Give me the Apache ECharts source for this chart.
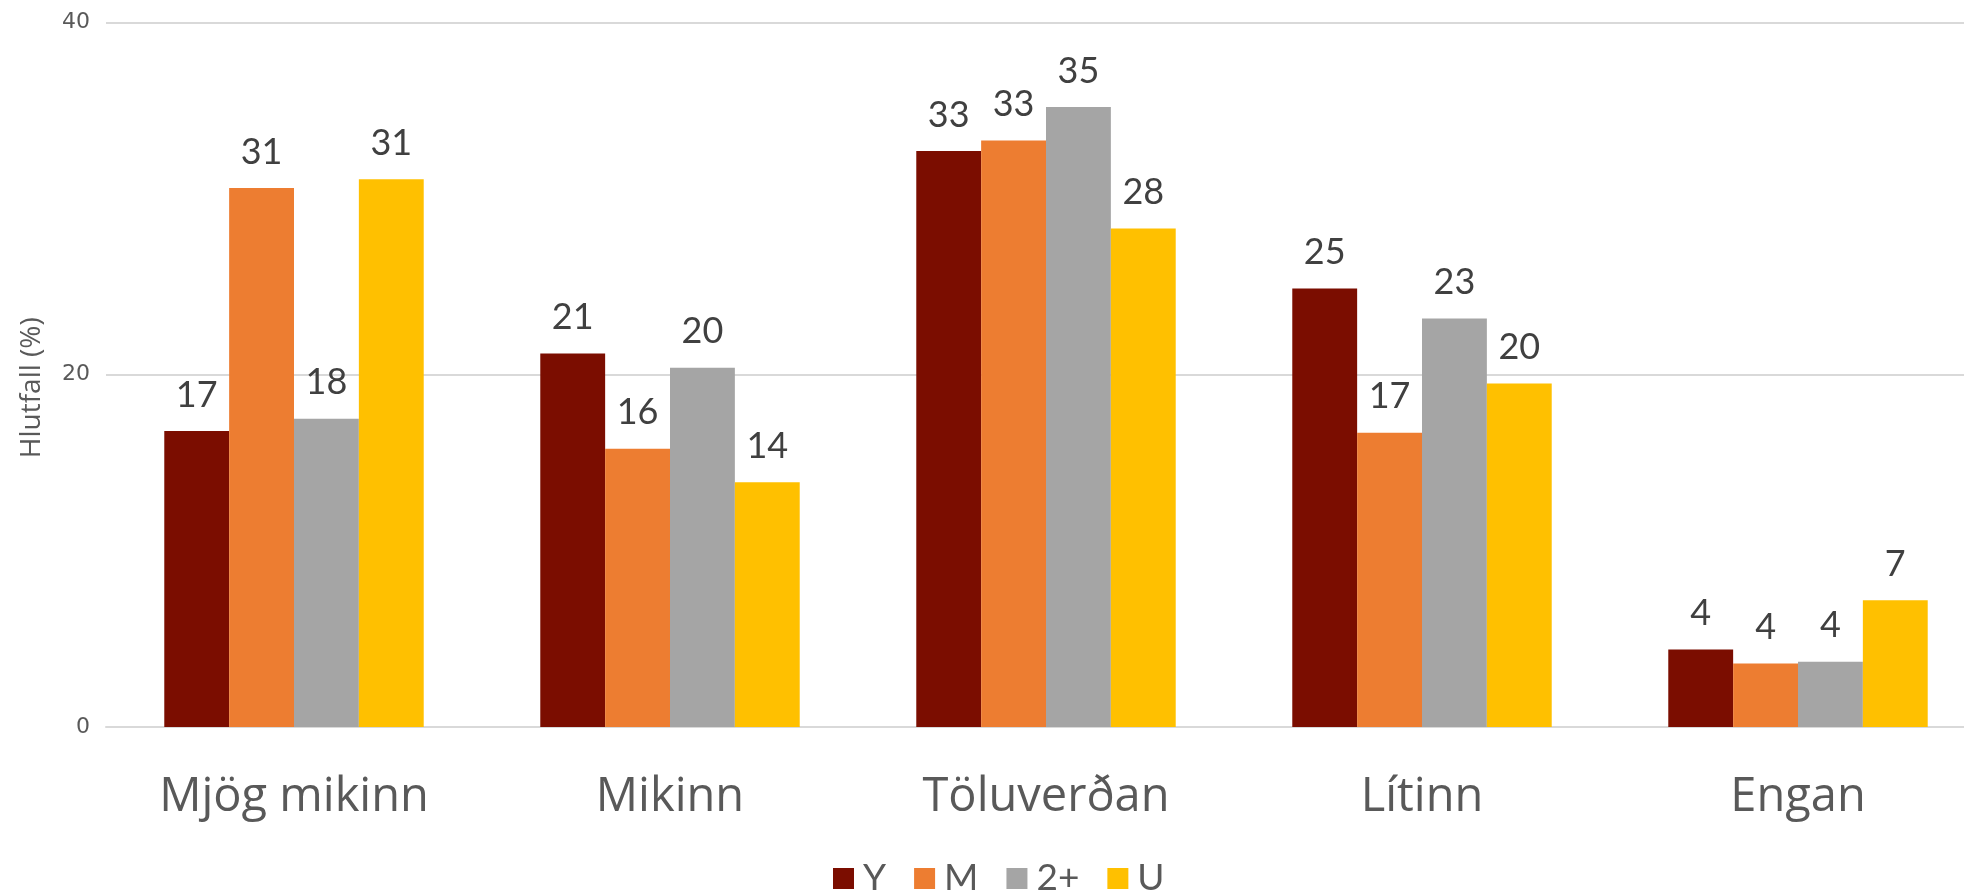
<!DOCTYPE html>
<html>
<head>
<meta charset="utf-8">
<script src="https://cdn.jsdelivr.net/npm/echarts@6/dist/echarts.min.js"></script>
<style>html,body{margin:0;padding:0;background:#fff;overflow:hidden}#c{width:1990px;height:891px}</style>
</head>
<body>
<div id="c"></div>
<script>
const categories = ["Mjög mikinn", "Mikinn", "Töluverðan", "Lítinn", "Engan"];
const seriesNames = ["Y", "M", "2+", "U"];
const valuesY = [16.8, 21.2, 32.7, 24.9, 4.4];
const valuesM = [30.6, 15.8, 33.3, 16.7, 3.6];
const values2 = [17.5, 20.4, 35.2, 23.2, 3.7];
const valuesU = [31.1, 13.9, 28.3, 19.5, 7.2];
const colors = ["#7B0D00", "#ED7D31", "#A5A5A5", "#FFC000"];
const yTicks = { min: 0, max: 40, interval: 20 };
const axisTitle = "Hlutfall (%)";

const allValues = [valuesY, valuesM, values2, valuesU];
const chart = echarts.init(document.getElementById('c'));
chart.setOption({
  animation: false,
  grid: { left: 106, width: 1880, top: 22.5, bottom: 164 },
  legend: {
    left: 828, top: 855,
    icon: 'rect', itemWidth: 21, itemHeight: 21, itemGap: 28,
    textStyle: { fontSize: 37, color: '#595959', fontFamily: 'Lato', padding: [0, 0, 0, 4] },
    data: seriesNames
  },
  xAxis: {
    type: 'category', data: categories,
    axisLine: { show: true, lineStyle: { color: '#D9D9D9', width: 2 } },
    axisTick: { show: false },
    axisLabel: { fontSize: 47, color: '#595959', fontFamily: 'Open Sans', margin: 47 }
  },
  yAxis: {
    type: 'value', min: yTicks.min, max: yTicks.max, interval: yTicks.interval,
    name: axisTitle, nameLocation: 'middle', nameGap: 60, nameRotate: 90,
    nameTextStyle: { fontSize: 28, color: '#595959', fontFamily: 'Open Sans', padding: [0, 26, 0, 0] },
    axisLabel: { fontSize: 22, color: '#595959', fontFamily: 'DejaVu Sans', margin: 16 },
    splitLine: { lineStyle: { color: '#D9D9D9', width: 2 } }
  },
  series: seriesNames.map((n, i) => ({
    name: n, type: 'bar', data: allValues[i],
    itemStyle: { color: colors[i] },
    barGap: '0%', barCategoryGap: '31%',
    label: {
      show: true, position: 'top', distance: 18,
      fontSize: 36, color: '#404040', fontFamily: "'Liberation Sans Narrow', Lato",
      formatter: p => Math.round(p.value)
    }
  }))
});
</script>
</body>
</html>
